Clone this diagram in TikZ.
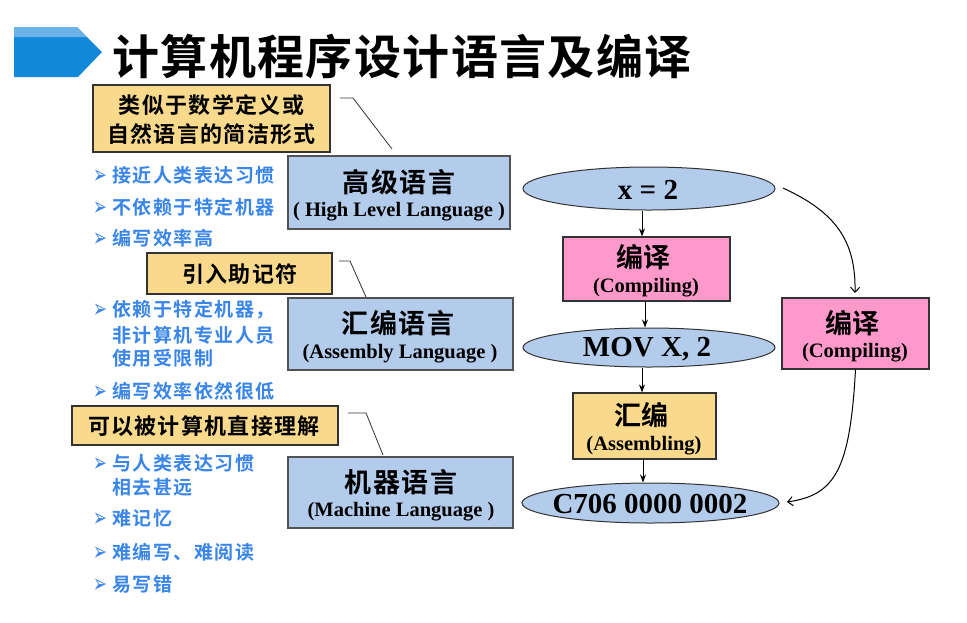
\documentclass[tikz,border=0pt]{standalone}
\usepackage{fontspec}
\usepackage{graphicx}
\setmainfont{Liberation Serif}
\newfontfamily\cjk{Noto Sans CJK SC}[BoldFont={Noto Sans CJK SC Bold}]
\newfontfamily\bulfont{DejaVu Sans}
\usetikzlibrary{arrows.meta,shapes.geometric}
\definecolor{boxblue}{HTML}{B4CCEB}
\definecolor{boxyellow}{HTML}{F9D98C}
\definecolor{boxpink}{HTML}{FF99CC}
\definecolor{bultext}{HTML}{3A86E8}
\definecolor{titleblue}{HTML}{1188D8}
\definecolor{titlelight}{HTML}{6AB2E8}
\definecolor{edgecol}{HTML}{333333}
\tikzset{
  ybox/.style={draw=edgecol, line width=1.2pt, fill=boxyellow, inner sep=0pt},
  bbox/.style={draw=edgecol!85, line width=1.5pt, fill=boxblue, inner sep=0pt},
  pbox/.style={draw=edgecol, line width=1.2pt, fill=boxpink, inner sep=0pt},
  ebox/.style={ellipse, draw=edgecol, line width=1pt, fill=boxblue, inner sep=0pt},
  ytext/.style={inner sep=0pt, font=\cjk\bfseries\fontsize{22}{30}\selectfont\addfontfeature{LetterSpace=6}},
  bhead/.style={inner sep=0pt, font=\cjk\bfseries\fontsize{27}{32}\selectfont\addfontfeature{LetterSpace=7}},
  etext/.style={inner sep=0pt, font=\bfseries\fontsize{20.5}{24}\selectfont},
  phead/.style={inner sep=0pt, font=\cjk\bfseries\fontsize{27}{32}\selectfont},
  otext/.style={inner sep=0pt, font=\bfseries\fontsize{29}{34}\selectfont},
  bul/.style={inner sep=0pt, anchor=west, text=bultext, font=\cjk\bfseries\fontsize{19}{24}\selectfont\addfontfeature{LetterSpace=8}},
  callout/.style={draw=edgecol, line width=0.8pt},
  varr/.style={draw=black, line width=1pt, -{Stealth[length=8pt,width=6pt]}},
  carr/.style={draw=black, line width=1pt, -{Straight Barb[length=5pt,width=9pt]}},
}
\newcommand{\bmark}{\makebox[19pt][l]{\raisebox{-1pt}{\scalebox{0.75}[1.15]{\bulfont\fontsize{22}{24}\selectfont ➢}}}}
\begin{document}
\begin{tikzpicture}[x=1pt,y=-1pt]
\useasboundingbox[fill=white] (0,0) rectangle (967,622);

% title marker
\fill[titleblue] (14,27) -- (77,27) -- (102,52) -- (78,77) -- (14,77) -- cycle;
\fill[titlelight] (14,27) -- (77,27) -- (87,37) -- (14,37) -- cycle;
\node[inner sep=0pt, text=black, font=\cjk\bfseries\fontsize{47}{52}\selectfont\addfontfeature{LetterSpace=3}] (title) at (402,57) {计算机程序设计语言及编译};

% yellow callouts
\node[ybox, minimum width=237pt, minimum height=67pt] (y1) at (211.5,118.5) {};
\node[ytext] (y1a) at (211.5,105) {类似于数学定义或};
\node[ytext] (y1b) at (211.5,134) {自然语言的简洁形式};
\node[ybox, minimum width=185pt, minimum height=41pt] (y2) at (239.5,273.5) {};
\node[ytext] (y2a) at (240,274) {引入助记符};
\node[ybox, minimum width=266pt, minimum height=39pt] (y3) at (205,425.5) {};
\node[ytext] (y3a) at (204,426) {可以被计算机直接理解};

% blue language boxes
\node[bbox, minimum width=222pt, minimum height=73pt] (b1) at (399,192.5) {};
\node[bhead] (b1a) at (399,182) {高级语言};
\node[etext] (b1b) at (399,212) {( High Level Language )};
\node[bbox, minimum width=225pt, minimum height=72pt] (b2) at (400.5,334) {};
\node[bhead] (b2a) at (398,323) {汇编语言};
\node[etext] (b2b) at (400,354) {(Assembly Language )};
\node[bbox, minimum width=225pt, minimum height=71pt] (b3) at (400.5,492.5) {};
\node[bhead] (b3a) at (401,482) {机器语言};
\node[etext] (b3b) at (401,512) {(Machine Language )};

% callout lines
\coordinate (c1s) at (340,98);  \coordinate (c1k) at (353,98);  \coordinate (c1e) at (392,149);
\coordinate (c2s) at (339,261); \coordinate (c2k) at (350,261); \coordinate (c2e) at (366,297);
\coordinate (c3s) at (348,413); \coordinate (c3k) at (366,413); \coordinate (c3e) at (383,455);
\draw[callout] (c1s) -- (c1k) -- (c1e);
\draw[callout] (c2s) -- (c2k) -- (c2e);
\draw[callout] (c3s) -- (c3k) -- (c3e);

% bullets
\node[bul] (l1) at (93,175) {\bmark 接近人类表达习惯};
\node[bul] (l2) at (93,207) {\bmark 不依赖于特定机器};
\node[bul] (l3) at (93,238) {\bmark 编写效率高};
\node[bul] (l4) at (93,310) {\bmark 依赖于特定机器，};
\node[bul] (l5) at (112,335) {非计算机专业人员};
\node[bul] (l6) at (112,358) {使用受限制};
\node[bul] (l7) at (93,391) {\bmark 编写效率依然很低};
\node[bul] (l8) at (93,463) {\bmark 与人类表达习惯};
\node[bul] (l9) at (112,487) {相去甚远};
\node[bul] (l10) at (93,518) {\bmark 难记忆};
\node[bul] (l11) at (93,552) {\bmark 难编写、难阅读};
\node[bul] (l12) at (93,584) {\bmark 易写错};

% right flow
\node[ebox, minimum width=252pt, minimum height=43pt] (e1) at (649,188.5) {};
\node[otext] (e1t) at (648,190) {x = 2};
\node[pbox, minimum width=167pt, minimum height=64pt] (p1) at (646.5,269) {};
\node[phead] (p1a) at (643,257) {编译};
\node[etext] (p1b) at (646,288) {(Compiling)};
\node[ebox, minimum width=252pt, minimum height=39pt] (e2) at (649,347.5) {};
\node[otext] (e2t) at (647,349) {MOV X, 2};
\node[ybox, minimum width=143pt, minimum height=66pt] (a1) at (644.5,426) {};
\node[phead] (a1a) at (641,415) {汇编};
\node[etext] (a1b) at (644,446) {(Assembling)};
\node[ebox, minimum width=257pt, minimum height=40pt] (e3) at (650.5,503) {};
\node[otext] (e3t) at (650,504) {C706 0000 0002};
\node[pbox, minimum width=147pt, minimum height=71pt] (p2) at (855.5,333.5) {};
\node[phead] (p2a) at (852,323) {编译};
\node[etext] (p2b) at (855,353) {(Compiling)};

\coordinate (ax1) at (642,0);
\coordinate (ax2) at (645,0);
\coordinate (ax3) at (642,0);
\coordinate (ax4) at (643,0);
\draw[varr] (e1.south -| ax1) -- (p1.north -| ax1);
\draw[varr] (p1.south -| ax2) -- (e2.north -| ax2);
\draw[varr] (e2.south -| ax3) -- (a1.north -| ax3);
\draw[varr] (a1.south -| ax4) -- (e3.north -| ax4);

\coordinate (k1s) at (783,188);
\coordinate (k1e) at (855,293);
\coordinate (k2e) at (787,502);
\draw[carr] (k1s) .. controls (835,212) and (856,240) .. (k1e);
\draw[carr] (p2.south) .. controls (850,470) and (835,495) .. (k2e);
\end{tikzpicture}
\end{document}
